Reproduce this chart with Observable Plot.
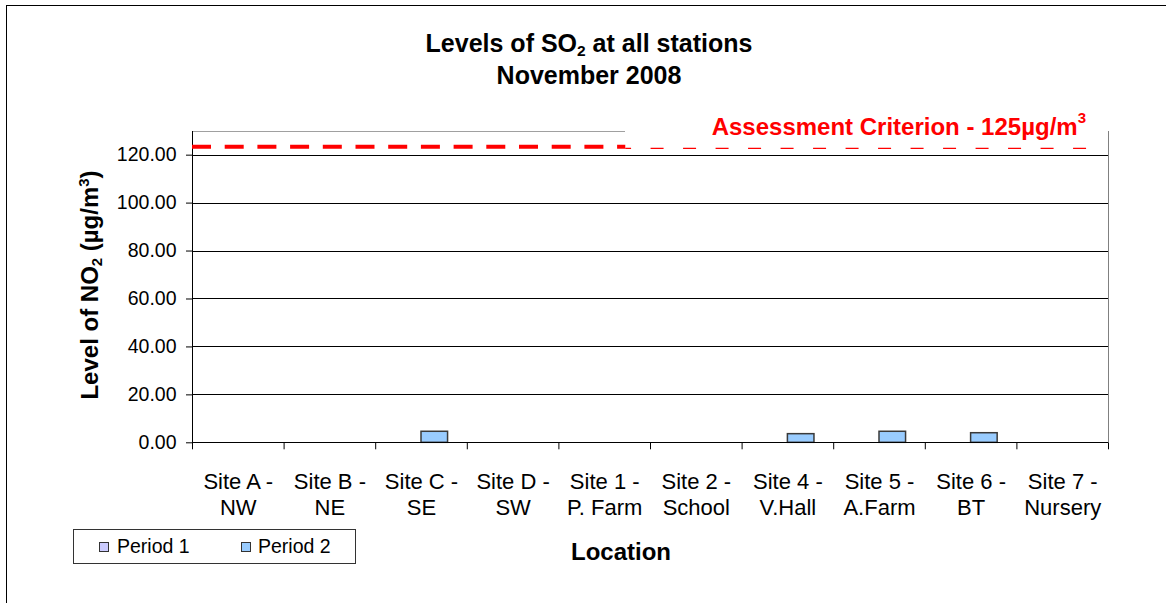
<!DOCTYPE html>
<html>
<head>
<meta charset="utf-8">
<script src="https://cdn.jsdelivr.net/npm/d3@7"></script>
<script src="https://cdn.jsdelivr.net/npm/@observablehq/plot@0.6"></script>
<style>
  html, body { margin: 0; padding: 0; background: #fff; overflow: hidden; }
  body { font-family: "Liberation Sans", Arial, sans-serif; color: #000; }
  #wrap { position: relative; width: 1166px; height: 603px; overflow: hidden; }
  #frame { position: absolute; left: 6px; top: 5px; width: 1300px; height: 700px; border: 1px solid #000; }
  #chart { position: absolute; left: 0; top: 0; }
  .abs { position: absolute; white-space: nowrap; }
  #title { left: 0; width: 1178px; top: 27px; text-align: center; font-weight: bold; font-size: 25px; line-height: 32px; }
  #title sub { font-size: 0.62em; vertical-align: -0.28em; line-height: 0; }
  #ytitle { left: 90px; top: 285px; transform: translate(-50%, -50%) rotate(-90deg); font-weight: bold; font-size: 24px; line-height: 28px; }
  #ytitle sub { font-size: 0.62em; vertical-align: -0.25em; line-height: 0; }
  #ytitle sup { font-size: 0.62em; vertical-align: 0.6em; line-height: 0; }
  #xtitle { left: 521px; width: 200px; text-align: center; top: 539.7px; font-weight: bold; font-size: 24px; line-height: 24px; }
  #crit { left: 711.7px; top: 114.7px; color: #ff0000; font-weight: bold; font-size: 24px; line-height: 24px; }
  #crit sup { font-size: 15px; vertical-align: 12px; line-height: 0; }
  #legend { left: 73px; top: 529px; width: 283px; height: 35px; box-sizing: border-box; border: 1px solid #333; background: #fff; }
  .sw { position: absolute; width: 10px; height: 10px; box-sizing: border-box; border: 1px solid #333; }
  .lt { position: absolute; font-size: 19.5px; line-height: 19px; }
</style>
</head>
<body>
<div id="wrap">
  <div id="frame"></div>
  <div id="chart"></div>
  <div id="title" class="abs">Levels of SO<sub>2</sub> at all stations<br>November 2008</div>
  <div id="crit" class="abs"></div>
  <div id="ytitle" class="abs">Level of NO<sub>2</sub> (µg/m<sup>3</sup>)</div>
  <div id="xtitle" class="abs">Location</div>
  <div id="legend" class="abs"></div>
</div>
<script>
// ---- data ----
const siteLabels = [
  "Site A -\nNW", "Site B -\nNE", "Site C -\nSE", "Site D -\nSW", "Site 1 -\nP. Farm",
  "Site 2 -\nSchool", "Site 4 -\nV.Hall", "Site 5 -\nA.Farm", "Site 6 -\nBT", "Site 7 -\nNursery"
];
const period1 = [0, 0, 0, 0, 0, 0, 0, 0, 0, 0];
const period2 = [0, 0, 4.6, 0, 0, 0, 3.6, 4.6, 4.0, 0];
const periods = ["Period 1", "Period 2"];
const periodColors = ["#CCCCFF", "#99CCFF"];
const yTicks = [0, 20, 40, 60, 80, 100, 120];
const yMax = 130;
const criterionValue = 125;     // label value
const criterionDrawn = 123.5;   // where the line sits in the picture
const xTitle = "Location";

// ---- layout constants (category units) ----
const barW = 0.29;
const labelBoxStart = 4.73;
const thinEnd = 9.836;

// ---- table ----
const bars = [];
siteLabels.forEach((s, i) => {
  bars.push({ i, period: periods[0], value: period1[i] });
  bars.push({ i, period: periods[1], value: period2[i] });
});
const nSites = siteLabels.length;

const plot = Plot.plot({
  width: 1166,
  height: 603,
  marginLeft: 192,
  marginRight: 58,
  marginTop: 130.7,
  marginBottom: 160.7,
  x: { domain: [0, nSites], label: null },
  y: { domain: [0, yMax], label: null },
  color: { domain: periods, range: periodColors },
  style: { fontFamily: '"Liberation Sans", Arial, sans-serif', color: "#000", background: "transparent", overflow: "visible" },
  marks: [
    Plot.ruleY(yTicks.filter(d => d > 0), { stroke: "#000", strokeWidth: 1, shapeRendering: "crispEdges" }),
    Plot.ruleY([yMax], { x1: 0, x2: labelBoxStart, stroke: "#a0a0a0", strokeWidth: 1, shapeRendering: "crispEdges" }),
    Plot.ruleX([nSites], { stroke: "#808080", strokeWidth: 1, shapeRendering: "crispEdges" }),
    Plot.rect(bars.filter(d => d.value > 0), {
      x1: d => d.i + 0.5 + (d.period === periods[0] ? -barW : 0),
      x2: d => d.i + 0.5 + (d.period === periods[0] ? 0 : barW),
      y1: 0,
      y2: "value",
      fill: "period",
      stroke: "#3a3a3a",
      strokeWidth: 1.5
    }),
    Plot.ruleX([0], { stroke: "#000", strokeWidth: 1, shapeRendering: "crispEdges" }),
    Plot.ruleY([0], { stroke: "#000", strokeWidth: 1, shapeRendering: "crispEdges" }),
    Plot.axisX(d3.range(nSites + 1), { tickSize: 7, tickFormat: () => "", label: null, stroke: "#000" }),
    Plot.axisX(d3.range(nSites).map(i => i + 0.5), {
      tickSize: 0, tickPadding: 28, label: null,
      tickFormat: v => siteLabels[Math.floor(v)],
      fontSize: 22, lineHeight: 1.18, fill: "#000"
    }),
    Plot.axisY(yTicks, {
      tickSize: 6, tickPadding: 10, label: null,
      tickFormat: d => d.toFixed(2), fontSize: 19.5, fill: "#000", stroke: "#000"
    }),
    Plot.ruleY([criterionDrawn], { x1: 0, x2: labelBoxStart, stroke: "#ff0000", strokeWidth: 4, strokeDasharray: "19 13.7" }),
    Plot.ruleY([criterionDrawn], { x1: labelBoxStart, x2: thinEnd, dy: 1.5, stroke: "#ff0000", strokeWidth: 1.2, strokeDasharray: "13 19.5", strokeDashoffset: 7.2 })
  ]
});
document.getElementById("chart").appendChild(plot);

document.getElementById("crit").innerHTML = `Assessment Criterion - ${criterionValue}µg/m<sup>3</sup>`;
document.getElementById("xtitle").textContent = xTitle;

// legend
const legend = document.getElementById("legend");
const swX = [24.7, 167];
const txX = [43, 184];
periods.forEach((p, k) => {
  const sw = document.createElement("div");
  sw.className = "sw";
  sw.style.left = swX[k] + "px";
  sw.style.top = "11.7px";
  sw.style.background = periodColors[k];
  legend.appendChild(sw);
  const t = document.createElement("div");
  t.className = "lt";
  t.style.left = txX[k] + "px";
  t.style.top = "6.6px";
  t.textContent = p;
  legend.appendChild(t);
});
</script>
</body>
</html>
